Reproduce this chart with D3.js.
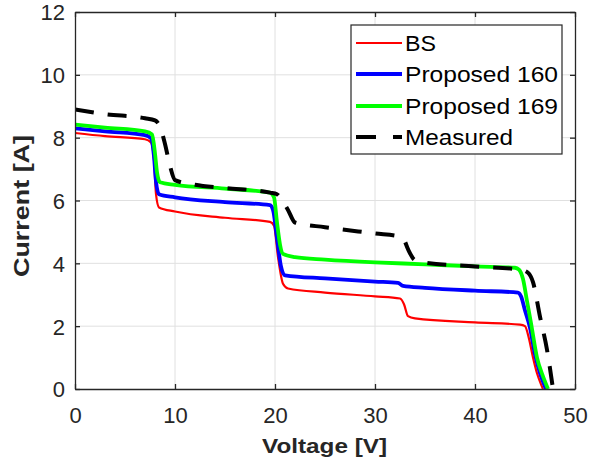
<!DOCTYPE html>
<html>
<head>
<meta charset="utf-8">
<script src="https://cdn.jsdelivr.net/npm/d3@7"></script>
<style>
  html, body { margin: 0; padding: 0; background: #fff; }
  svg { display: block; font-family: "Liberation Sans", Arial, sans-serif; }
</style>
</head>
<body>
<svg id="chart" width="591" height="462"></svg>
<script>
// ---- data ----
const xTicks = [0, 10, 20, 30, 40, 50];
const yTicks = [0, 2, 4, 6, 8, 10, 12];
const seriesNames = ["BS", "Proposed 160", "Proposed 169", "Measured"];

const bsV = [0, 3, 7, 7.6, 7.9, 8.1, 8.4, 10, 15, 19.5, 19.9, 20.3, 20.8, 21.3, 25, 30, 32.5, 32.9, 33.3, 34, 40, 44.5, 45, 45.4, 45.8, 46.2, 46.6, 46.8];
const bsI = [8.15, 8.05, 7.95, 7.85, 7.3, 6.2, 5.78, 5.65, 5.45, 5.32, 5.2, 4.2, 3.35, 3.2, 3.07, 2.95, 2.88, 2.7, 2.32, 2.25, 2.12, 2.05, 2.0, 1.6, 1.0, 0.5, 0.15, 0];

const p160V = [0, 3, 7, 7.6, 7.9, 8.1, 8.4, 10, 15, 19.5, 19.8, 20.2, 20.6, 21, 25, 30, 32.3, 32.8, 35, 40, 44.3, 44.6, 45, 45.5, 46, 46.5, 47.1];
const p160I = [8.3, 8.2, 8.08, 7.98, 7.4, 6.6, 6.2, 6.1, 5.95, 5.85, 5.7, 4.8, 3.9, 3.62, 3.52, 3.42, 3.38, 3.28, 3.22, 3.13, 3.07, 2.95, 2.5, 1.95, 1.1, 0.5, 0];

const p169V = [0, 3, 7, 7.7, 8.0, 8.2, 8.5, 10, 15, 19.5, 19.9, 20.2, 20.5, 20.8, 22, 25, 30, 35, 40, 44, 44.4, 44.8, 45.2, 45.6, 46.2, 46.8, 47.3];
const p169I = [8.42, 8.32, 8.2, 8.1, 7.5, 6.9, 6.58, 6.5, 6.38, 6.25, 6.1, 5.3, 4.6, 4.3, 4.2, 4.12, 4.03, 3.97, 3.9, 3.86, 3.8, 3.5, 2.8, 2.1, 1.0, 0.4, 0];

const measV = [0, 3, 7, 8, 8.5, 9.0, 9.5, 10, 12, 15, 19.5, 20.2, 20.7, 21.3, 22, 25, 30, 32.5, 32.9, 33.3, 34, 35, 40, 44.5, 45.3, 45.8, 46.5, 47.2, 47.8];
const measI = [8.9, 8.75, 8.62, 8.55, 8.35, 7.8, 7.1, 6.65, 6.5, 6.4, 6.25, 6.2, 6.0, 5.7, 5.3, 5.15, 4.95, 4.85, 4.75, 4.45, 4.1, 4.02, 3.9, 3.8, 3.7, 3.4, 2.3, 1.25, 0];

// ---- layout ----
const svg = d3.select("#chart");
const L = 75, R = 575, T = 12, B = 389;
const x = d3.scaleLinear().domain([0, 50]).range([L, R]);
const y = d3.scaleLinear().domain([0, 12]).range([B, T]);
const axisColor = "#262626";
const textColor = "#262626";

// grid
const grid = svg.append("g");
grid.selectAll("line.gx").data(xTicks.slice(1, -1)).join("line")
  .attr("x1", d => x(d)).attr("x2", d => x(d)).attr("y1", T).attr("y2", B)
  .attr("stroke", "#e0e0e0").attr("stroke-width", 1);
grid.selectAll("line.gy").data(yTicks.slice(1, -1)).join("line")
  .attr("y1", d => y(d)).attr("y2", d => y(d)).attr("x1", L).attr("x2", R)
  .attr("stroke", "#e0e0e0").attr("stroke-width", 1);

// series
const series = [
  { name: seriesNames[0], V: bsV, I: bsI, color: "#ff0000", width: 2.2, dash: null, tl: 31 },
  { name: seriesNames[1], V: p160V, I: p160I, color: "#0000ff", width: 3.8, dash: null, tl: 153 },
  { name: seriesNames[2], V: p169V, I: p169I, color: "#00ff00", width: 3.8, dash: null, tl: 153 },
  { name: seriesNames[3], V: measV, I: measI, color: "#000000", width: 4, dash: "19,14", tl: 108 }
];
const line = d3.line().x(d => x(d[0])).y(d => y(d[1])).curve(d3.curveMonotoneX);
svg.append("clipPath").attr("id", "clip").append("rect")
  .attr("x", L).attr("y", T).attr("width", R - L).attr("height", B - T);
const plot = svg.append("g").attr("clip-path", "url(#clip)");
series.forEach(s => {
  const pts = s.V.map((v, i) => [v, s.I[i]]);
  plot.append("path").datum(pts)
    .attr("d", line)
    .attr("fill", "none")
    .attr("stroke", s.color)
    .attr("stroke-width", s.width)
    .attr("stroke-dasharray", s.dash)
    .attr("stroke-linejoin", "round");
});

// axes (box with inward ticks)
const tickLen = 5;
const axB = svg.append("g").attr("transform", `translate(0,${B})`)
  .call(d3.axisBottom(x).tickValues(xTicks).tickSizeInner(-tickLen).tickSizeOuter(0).tickPadding(18));
const axT = svg.append("g").attr("transform", `translate(0,${T})`)
  .call(d3.axisTop(x).tickValues(xTicks).tickSizeInner(-tickLen).tickSizeOuter(0).tickFormat(""));
const axL = svg.append("g").attr("transform", `translate(${L},0)`)
  .call(d3.axisLeft(y).tickValues(yTicks).tickSizeInner(-tickLen).tickSizeOuter(0).tickPadding(10));
const axR = svg.append("g").attr("transform", `translate(${R},0)`)
  .call(d3.axisRight(y).tickValues(yTicks).tickSizeInner(-tickLen).tickSizeOuter(0).tickFormat(""));
[axB, axT, axL, axR].forEach(a => {
  a.select(".domain").attr("stroke", axisColor).attr("stroke-width", 1.3);
  a.selectAll(".tick line").attr("stroke", axisColor).attr("stroke-width", 1.3);
  a.selectAll(".tick text").attr("fill", textColor).attr("font-size", 22)
    .attr("font-family", "Liberation Sans, Arial, sans-serif");
});
axB.selectAll(".tick text").attr("dy", "0.71em");
axL.selectAll(".tick text").attr("dy", "0.36em");

// axis labels
svg.append("text").attr("x", 324.5).attr("y", 453)
  .attr("text-anchor", "middle").attr("font-size", 21).attr("font-weight", "bold")
  .attr("textLength", 125).attr("lengthAdjust", "spacingAndGlyphs")
  .attr("fill", textColor).text("Voltage [V]");
svg.append("text").attr("transform", `translate(28.5,206) rotate(-90)`)
  .attr("text-anchor", "middle").attr("font-size", 22).attr("font-weight", "bold")
  .attr("textLength", 142).attr("lengthAdjust", "spacingAndGlyphs")
  .attr("fill", textColor).text("Current [A]");

// legend
const lg = svg.append("g");
lg.append("rect").attr("x", 351).attr("y", 25).attr("width", 211).attr("height", 129)
  .attr("fill", "#fff").attr("stroke", axisColor).attr("stroke-width", 1.2);
const rowY = [43, 74, 106, 137];
series.forEach((s, i) => {
  lg.append("line").attr("x1", 356).attr("x2", 402).attr("y1", rowY[i]).attr("y2", rowY[i])
    .attr("stroke", s.color).attr("stroke-width", s.width)
    .attr("stroke-dasharray", s.dash ? "20,17" : null);
  lg.append("text").attr("x", 405).attr("y", rowY[i]).attr("dy", "0.36em")
    .attr("font-size", 22).attr("fill", "#000")
    .attr("textLength", s.tl).attr("lengthAdjust", "spacingAndGlyphs")
    .text(s.name);
});
</script>
</body>
</html>
